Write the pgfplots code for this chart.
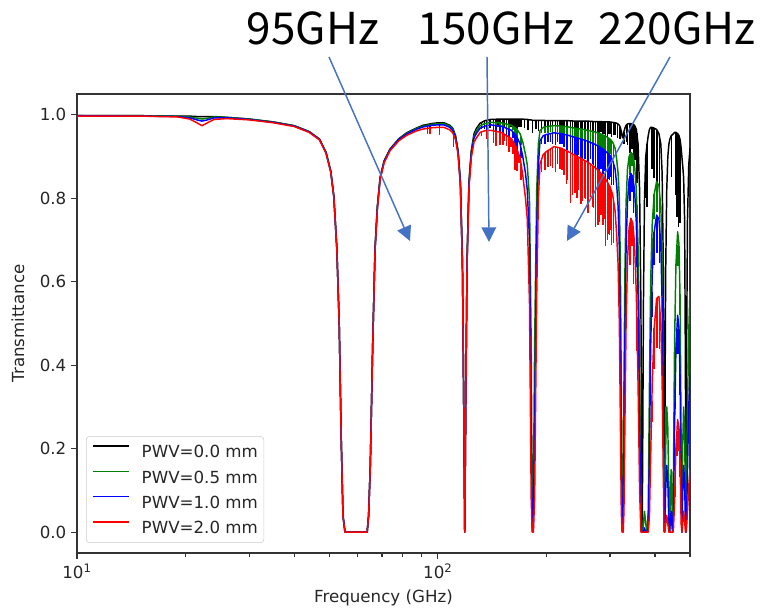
\documentclass[border=0pt]{standalone}
\usepackage{pgfplots}
\pgfplotsset{compat=1.18}
\usepackage{pgfplotstable}
\usetikzlibrary{arrows.meta}
\usepackage{fontspec}
\setmainfont{DejaVu Sans}
\newfontfamily\jpfont{Noto Sans CJK JP}
\definecolor{mplgreen}{HTML}{008000}
\definecolor{annot}{HTML}{4472C4}

\pgfplotstableread{
f t0 t05 t1 t2
10 0.998 0.998 0.998 0.997
15 0.998 0.998 0.997 0.997
19 0.997 0.997 0.996 0.995
20.5 0.997 0.995 0.993 0.990
21.5 0.996 0.992 0.988 0.981
22.2 0.996 0.990 0.985 0.974
23 0.996 0.992 0.988 0.981
24 0.996 0.995 0.993 0.989
26 0.994 0.994 0.993 0.991
30 0.990 0.990 0.989 0.988
35 0.983 0.983 0.982 0.981
40 0.974 0.974 0.973 0.972
44 0.960 0.960 0.959 0.958
47 0.942 0.942 0.941 0.940
49 0.910 0.910 0.909 0.908
50.5 0.865 0.865 0.864 0.863
51.5 0.805 0.805 0.804 0.803
52.5 0.680 0.680 0.679 0.678
53.3 0.500 0.500 0.499 0.498
54 0.220 0.220 0.219 0.218
54.6 0.040 0.040 0.039 0.038
55.3 0 0 0 0
63.7 0 0 0 0
64.3 0.040 0.040 0.039 0.038
65 0.160 0.160 0.159 0.158
66 0.450 0.450 0.449 0.447
67 0.680 0.680 0.678 0.676
68 0.780 0.780 0.778 0.775
69.2 0.850 0.849 0.848 0.845
71 0.890 0.889 0.888 0.885
73.7 0.918 0.917 0.916 0.914
78 0.943 0.942 0.941 0.938
82 0.957 0.956 0.954 0.951
87 0.968 0.967 0.965 0.961
91 0.975 0.973 0.971 0.966
96 0.979 0.977 0.975 0.969
100 0.981 0.979 0.976 0.970
104 0.981 0.979 0.976 0.970
108 0.975 0.973 0.970 0.964
110 0.968 0.966 0.963 0.957
112 0.950 0.948 0.945 0.940
113.8 0.914 0.912 0.910 0.905
115.5 0.840 0.838 0.835 0.830
117 0.650 0.648 0.645 0.640
118 0.300 0.300 0.300 0.300
118.75 0 0 0 0
119.5 0.300 0.300 0.300 0.300
120.5 0.650 0.648 0.645 0.640
122 0.840 0.836 0.832 0.825
123.8 0.914 0.909 0.905 0.897
126 0.955 0.950 0.945 0.935
128 0.968 0.962 0.956 0.945
131 0.980 0.974 0.968 0.958
135 0.986 0.979 0.973 0.962
140 0.989 0.982 0.976 0.963
150 0.990 0.981 0.973 0.958
160 0.990 0.975 0.963 0.943
165 0.990 0.967 0.950 0.922
169 0.990 0.955 0.931 0.898
172 0.990 0.935 0.900 0.855
175 0.989 0.905 0.860 0.800
177 0.989 0.880 0.820 0.750
179.5 0.988 0.800 0.700 0.550
181.5 0.988 0.450 0.250 0.080
182.6 0.987 0.080 0.010 0
183.3 0.987 0 0 0
184 0.987 0.080 0.010 0
185.5 0.987 0.450 0.250 0.080
188 0.987 0.820 0.720 0.570
190 0.987 0.930 0.880 0.800
192 0.987 0.962 0.938 0.883
196 0.987 0.970 0.950 0.905
200 0.986 0.972 0.953 0.912
210 0.986 0.974 0.957 0.924
220 0.986 0.973 0.955 0.920
230 0.986 0.971 0.951 0.912
240 0.985 0.968 0.946 0.903
250 0.985 0.966 0.942 0.895
260 0.985 0.963 0.937 0.887
270 0.984 0.960 0.931 0.877
280 0.984 0.956 0.924 0.865
290 0.983 0.950 0.915 0.850
300 0.983 0.942 0.903 0.828
305 0.982 0.935 0.892 0.810
310 0.981 0.920 0.870 0.770
313 0.980 0.895 0.835 0.715
316 0.978 0.860 0.780 0.640
318.5 0.975 0.800 0.680 0.500
320.5 0.970 0.650 0.480 0.280
322.5 0.960 0.350 0.180 0.050
324 0.950 0.080 0.020 0
325.2 0.945 0 0 0
326.4 0.950 0.080 0.020 0
328 0.960 0.350 0.180 0.050
330 0.968 0.620 0.460 0.260
332.5 0.975 0.790 0.680 0.500
335.5 0.978 0.870 0.790 0.650
339 0.979 0.900 0.845 0.730
343 0.979 0.910 0.860 0.752
347 0.978 0.905 0.850 0.740
351 0.975 0.880 0.820 0.690
355 0.965 0.820 0.740 0.570
359 0.930 0.680 0.560 0.350
362.5 0.820 0.400 0.260 0.100
365.5 0.550 0.100 0.040 0
367.5 0.150 0 0 0
368.5 0 0 0 0
369.5 0.150 0 0 0
371.5 0.550 0.020 0 0
374 0.800 0.050 0.010 0
377 0.900 0.020 0 0
380.2 0.930 0 0 0
383 0.950 0.050 0.010 0
386 0.965 0.350 0.180 0.040
389 0.970 0.600 0.440 0.180
393 0.970 0.740 0.620 0.360
398 0.968 0.810 0.720 0.490
404 0.965 0.840 0.760 0.560
410 0.955 0.830 0.750 0.565
415 0.930 0.780 0.690 0.500
418.5 0.860 0.660 0.550 0.360
421.5 0.650 0.400 0.300 0.150
423.5 0.250 0.080 0.040 0.010
424.8 0 0 0 0
426 0.250 0.060 0.020 0
428 0.620 0.200 0.100 0.020
431 0.820 0.300 0.160 0.040
434 0.900 0.250 0.120 0.020
437 0.930 0.080 0.020 0
439.2 0.940 0 0 0
441 0.945 0.100 0.030 0
443.5 0.950 0.150 0.050 0
446 0.952 0.050 0.010 0
448 0.953 0 0 0
450 0.955 0.150 0.050 0.010
453 0.958 0.450 0.250 0.070
457 0.958 0.640 0.440 0.200
462 0.955 0.720 0.520 0.270
466 0.950 0.690 0.490 0.250
469.5 0.940 0.550 0.360 0.160
472.5 0.920 0.200 0.090 0.020
474.7 0.900 0 0 0
477 0.880 0.200 0.090 0.020
480 0.850 0.300 0.160 0.050
483 0.750 0.250 0.120 0.030
485.5 0.400 0.080 0.030 0
487.2 0 0 0 0
489 0.400 0.080 0.030 0.010
492 0.750 0.300 0.150 0.050
496 0.880 0.480 0.300 0.110
500 0.920 0.580 0.380 0.150
}\trans

\pgfplotstableread{
f b0 d0 b05 d05 b1 d1 b2 d2
93.5 0.977 0.002 0.975 0.003 0.973 0.005 0.967 0.012
95.2 0.978 0.002 0.976 0.004 0.974 0.006 0.968 0.015
101 0.981 0.002 0.979 0.004 0.976 0.007 0.970 0.018
110.5 0.963 0.003 0.961 0.006 0.958 0.010 0.952 0.030
132 0.981 0.015 0.975 0 0.969 0 0.959 0.010
134.5 0.985 0.020 0.978 0 0.972 0 0.961 0
137 0.987 0.015 0.980 0.010 0.974 0.010 0.962 0.020
139.5 0.989 0.020 0.982 0 0.976 0 0.963 0
142.5 0.989 0.020 0.982 0.015 0.976 0.020 0.962 0.030
145 0.989 0.025 0.981 0.020 0.974 0.025 0.960 0.035
147 0.990 0.020 0.981 0 0.973 0 0.959 0
148.5 0.990 0.020 0.981 0.015 0.973 0.020 0.958 0.030
151.5 0.990 0.025 0.980 0.020 0.972 0.020 0.957 0.030
153 0.990 0.020 0.979 0 0.969 0 0.953 0.015
155 0.990 0.020 0.978 0.015 0.968 0.020 0.950 0.025
157.5 0.990 0.025 0.977 0.020 0.966 0.025 0.947 0.035
159.5 0.990 0.020 0.975 0 0.964 0 0.944 0.020
161.5 0.990 0.025 0.973 0.010 0.959 0.015 0.937 0.030
163.5 0.990 0.030 0.969 0.025 0.954 0.035 0.928 0.060
166 0.990 0.025 0.964 0.020 0.945 0.030 0.916 0.050
168 0.990 0.020 0.958 0 0.936 0 0.904 0.020
170 0.990 0.020 0.948 0.020 0.921 0.025 0.883 0.040
174 0.989 0.020 0.915 0 0.873 0 0.818 0
178 0.989 0.025 0.850 0 0.780 0 0.700 0
183.3 0.987 0.030 0 0 0 0 0 0
187 0.987 0.020 0.700 0 0.600 0 0.400 0
190 0.987 0.025 0.930 0 0.880 0 0.800 0
194 0.987 0.020 0.966 0.010 0.944 0.015 0.894 0.030
198 0.986 0.025 0.971 0.015 0.951 0.020 0.908 0.040
202 0.986 0.020 0.972 0.015 0.954 0.020 0.914 0.040
205 0.986 0.015 0.973 0.015 0.955 0.020 0.918 0.040
208 0.986 0.020 0.974 0.020 0.956 0.025 0.922 0.050
212 0.986 0.025 0.974 0.020 0.957 0.030 0.923 0.060
215 0.986 0.015 0.9735 0.015 0.956 0.020 0.922 0.040
218 0.986 0.020 0.973 0.020 0.955 0.025 0.921 0.050
221 0.986 0.025 0.973 0.020 0.955 0.025 0.919 0.050
224 0.986 0.020 0.972 0.020 0.953 0.030 0.917 0.060
227 0.986 0.025 0.972 0.025 0.952 0.040 0.914 0.080
229 0.986 0.025 0.971 0.025 0.951 0.035 0.913 0.070
233 0.986 0.030 0.970 0.040 0.950 0.060 0.909 0.120
236 0.985 0.025 0.969 0.035 0.948 0.050 0.907 0.100
240 0.985 0.025 0.968 0.030 0.946 0.045 0.903 0.090
243 0.985 0.030 0.967 0.035 0.945 0.050 0.901 0.100
245 0.985 0.020 0.967 0.030 0.944 0.040 0.899 0.080
249 0.985 0.030 0.966 0.040 0.942 0.055 0.896 0.110
252 0.985 0.025 0.965 0.035 0.941 0.050 0.893 0.100
255 0.985 0.030 0.965 0.030 0.940 0.045 0.891 0.090
257 0.985 0.025 0.964 0.030 0.939 0.045 0.889 0.090
261 0.985 0.030 0.963 0.040 0.936 0.060 0.886 0.120
265 0.984 0.020 0.961 0.030 0.934 0.040 0.882 0.080
268 0.984 0.030 0.961 0.035 0.932 0.050 0.879 0.100
270 0.984 0.025 0.960 0.035 0.931 0.050 0.877 0.100
274 0.984 0.035 0.958 0.050 0.928 0.070 0.872 0.140
278 0.984 0.030 0.957 0.045 0.925 0.065 0.867 0.130
281 0.984 0.030 0.955 0.040 0.923 0.060 0.864 0.120
283 0.984 0.025 0.954 0.035 0.921 0.050 0.861 0.100
287 0.983 0.030 0.952 0.040 0.918 0.060 0.855 0.120
290 0.983 0.030 0.950 0.035 0.915 0.050 0.850 0.100
292 0.983 0.040 0.948 0.055 0.913 0.080 0.846 0.160
295 0.983 0.035 0.946 0.050 0.909 0.070 0.839 0.140
297 0.983 0.030 0.944 0.040 0.907 0.060 0.835 0.120
299 0.983 0.030 0.943 0.040 0.905 0.060 0.832 0.120
301 0.983 0.030 0.941 0.035 0.901 0.050 0.824 0.100
303 0.982 0.035 0.938 0.045 0.896 0.065 0.817 0.130
307 0.982 0.030 0.929 0.035 0.883 0.050 0.794 0.100
310 0.981 0.030 0.920 0 0.870 0 0.770 0
315 0.979 0.035 0.870 0 0.800 0 0.660 0
320 0.971 0.030 0.700 0 0.540 0 0.330 0
328 0.960 0.030 0.350 0 0.180 0 0.050 0
333 0.976 0.040 0.800 0 0.700 0 0.520 0
336 0.978 0.050 0.875 0.030 0.797 0.040 0.660 0.060
341 0.979 0.070 0.905 0.050 0.853 0.060 0.741 0.100
345 0.979 0.060 0.908 0.030 0.855 0.040 0.746 0.060
349 0.977 0.090 0.893 0.050 0.835 0.070 0.715 0.120
352 0.973 0.080 0.865 0 0.800 0 0.660 0
356 0.956 0.120 0.785 0.050 0.695 0.060 0.515 0.080
377 0.900 0.100 0 0 0 0 0 0
380.2 0.930 0.150 0 0 0 0 0 0
392 0.970 0.100 0.705 0.050 0.575 0.060 0.315 0.050
398 0.968 0.120 0.810 0.060 0.720 0.080 0.490 0.100
405 0.963 0.150 0.838 0.070 0.758 0.090 0.561 0.120
412 0.945 0.180 0.810 0.060 0.726 0.080 0.539 0.100
445 0.951 0.100 0.090 0 0.030 0 0 0
455 0.958 0.150 0.545 0.040 0.345 0.050 0.135 0.050
460 0.956 0.200 0.688 0.050 0.488 0.060 0.242 0.060
465 0.951 0.220 0.698 0.060 0.498 0.070 0.255 0.060
469 0.941 0.200 0.570 0.050 0.378 0.050 0.173 0.040
}\spikes

\begin{document}
\begin{tikzpicture}
\path[use as bounding box] (-57.75pt,-42pt) rectangle (513.75pt,414.75pt);
\begin{axis}[
  at={(0,0)}, anchor=south west,
  scale only axis, width=459.75pt, height=344.25pt,
  xmode=log, xmin=10, xmax=500, ymin=-0.05, ymax=1.05,
  xtick={10,100}, xticklabels={10\textsuperscript{1},10\textsuperscript{2}},
  minor xtick={20,30,40,50,60,70,80,90,200,300,400,500},
  ytick={0,0.2,0.4,0.6,0.8,1.0}, yticklabels={0.0,0.2,0.4,0.6,0.8,1.0},
  tick pos=left, tick align=outside,
  major tick length=4.5pt, minor tick length=3pt,
  every tick/.append style={black!80, line width=0.9pt},
  axis line style={black!80, line width=0.9pt},
  tick label style={font=\fontsize{12.5}{15}\selectfont, text=black!85},
  xlabel={Frequency (GHz)}, ylabel={Transmittance},
  every axis x label/.style={at={(axis description cs:0.5,-0.1068)}, anchor=base,
    font=\fontsize{12.5}{15}\selectfont, text=black!85},
  every axis y label/.style={at={(axis description cs:-0.0962,0.5)}, rotate=90, anchor=center,
    font=\fontsize{12.5}{15}\selectfont, text=black!85},
  legend cell align=left,
  legend style={at={(axis description cs:0.0147,0.0218)}, anchor=south west,
    draw=black!20, rounded corners=2.5pt, fill=white, text=black!85,
    font=\fontsize{12.5}{15}\selectfont, inner xsep=4.5pt, inner ysep=6.75pt,
    row sep=9.6pt, column sep=9pt,
    nodes={inner sep=0pt, text height=9pt, text depth=0pt}},
  legend image code/.code={\draw[#1, line width=1.1pt] (0pt,4.3pt) -- (27pt,4.3pt);},
]
\addplot[black, line width=1.1pt, line join=round] table[x=f,y=t0]{\trans};
\addlegendentry{PWV=0.0 mm}
\addplot[draw=none, forget plot, error bars/.cd, y dir=minus, y explicit, error mark=none,
  error bar style={draw=black, line width=1.1pt}] table[x=f,y=b0,y error=d0]{\spikes};
\addplot[mplgreen, line width=1.1pt, line join=round] table[x=f,y=t05]{\trans};
\addlegendentry{PWV=0.5 mm}
\addplot[draw=none, forget plot, error bars/.cd, y dir=minus, y explicit, error mark=none,
  error bar style={draw=mplgreen, line width=1.1pt}] table[x=f,y=b05,y error=d05]{\spikes};
\addplot[blue, line width=1.1pt, line join=round] table[x=f,y=t1]{\trans};
\addlegendentry{PWV=1.0 mm}
\addplot[draw=none, forget plot, error bars/.cd, y dir=minus, y explicit, error mark=none,
  error bar style={draw=blue, line width=1.1pt}] table[x=f,y=b1,y error=d1]{\spikes};
\addplot[red, line width=1.1pt, line join=round] table[x=f,y=t2]{\trans};
\addlegendentry{PWV=2.0 mm}
\addplot[draw=none, forget plot, error bars/.cd, y dir=minus, y explicit, error mark=none,
  error bar style={draw=red, line width=1.1pt}] table[x=f,y=b2,y error=d2]{\spikes};
\end{axis}
\begin{scope}[x=0.75pt,y=-0.75pt,shift={(-77,-553)}]
\draw[annot, line width=1.1pt, -{Triangle[length=11pt,width=11pt]}] (329,57) -- (410,241);
\draw[annot, line width=1.1pt, -{Triangle[length=11pt,width=11pt]}] (487,57) -- (489,242);
\draw[annot, line width=1.1pt, -{Triangle[length=11pt,width=11pt]}] (670,57) -- (567,241);
\node[font=\jpfont\fontsize{33}{40}\selectfont, anchor=base, inner sep=0pt] at (313,45) {95GHz};
\node[font=\jpfont\fontsize{33}{40}\selectfont, anchor=base, inner sep=0pt] at (496,45) {150GHz};
\node[font=\jpfont\fontsize{33}{40}\selectfont, anchor=base, inner sep=0pt] at (677,45) {220GHz};
\end{scope}
\end{tikzpicture}
\end{document}
